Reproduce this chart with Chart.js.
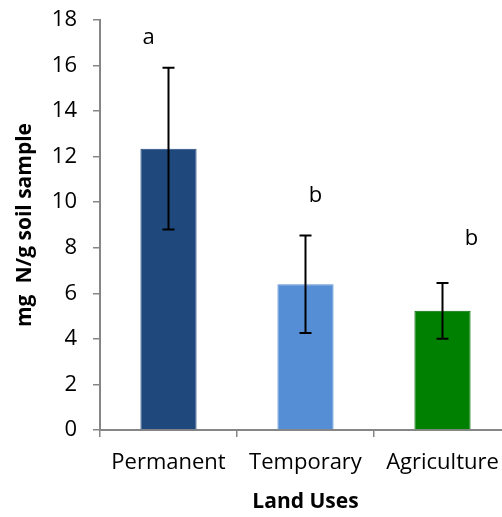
<!DOCTYPE html>
<html>
<head>
<meta charset="utf-8">
<script src="https://cdn.jsdelivr.net/npm/chart.js@4/dist/chart.umd.min.js"></script>
<style>
  html, body { margin: 0; padding: 0; background: #fff; overflow: hidden; }
  #wrap { width: 514px; height: 517px; }
</style>
</head>
<body>
<div id="wrap"><canvas id="chart"></canvas></div>
<script>
const categories = ["Permanent", "Temporary", "Agriculture"];
const means = [12.35, 6.4, 5.23];
const errors = [3.55, 2.14, 1.22];
const barColors = ["#1F497D", "#558ED5", "#008000"];
const barBorders = ["#1F497D", "#558ED5", "#006A00"];
const letters = ["a", "b", "b"];
const letterValues = [17.2, 10.3, 8.4];
const yTicks = [0, 2, 4, 6, 8, 10, 12, 14, 16, 18];

const axisGray = "#868686";

// error bars drawn from the y scale
const errorBars = {
  id: "errorBars",
  afterDatasetsDraw(chart) {
    const ctx = chart.ctx;
    const y = chart.scales.y;
    const meta = chart.getDatasetMeta(0);
    ctx.save();
    ctx.strokeStyle = "#000";
    ctx.lineWidth = 2;
    meta.data.forEach((bar, i) => {
      const top = y.getPixelForValue(means[i] + errors[i]);
      const bot = y.getPixelForValue(means[i] - errors[i]);
      const cap = 6;
      ctx.beginPath();
      ctx.moveTo(bar.x, top);
      ctx.lineTo(bar.x, bot);
      ctx.moveTo(bar.x - cap, top);
      ctx.lineTo(bar.x + cap, top);
      ctx.moveTo(bar.x - cap, bot);
      ctx.lineTo(bar.x + cap, bot);
      ctx.stroke();
    });
    ctx.restore();
  }
};

// significance letters
const letterLabels = {
  id: "letterLabels",
  afterDatasetsDraw(chart, args, opts) {
    const ctx = chart.ctx;
    const y = chart.scales.y;
    const meta = chart.getDatasetMeta(0);
    ctx.save();
    ctx.fillStyle = "#000";
    ctx.font = "22px 'Open Sans'";
    ctx.textAlign = "center";
    ctx.textBaseline = "middle";
    meta.data.forEach((bar, i) => {
      ctx.fillText(letters[i], bar.x + opts.shift[i], y.getPixelForValue(letterValues[i]));
    });
    ctx.restore();
  }
};

new Chart(document.getElementById("chart"), {
  type: "bar",
  data: {
    labels: categories,
    datasets: [{
      data: means,
      backgroundColor: barColors,
      borderColor: barBorders,
      borderWidth: 1,
      categoryPercentage: 1,
      barPercentage: 0.41
    }]
  },
  options: {
    responsive: true,
    maintainAspectRatio: false,
    animation: false,
    layout: { padding: { top: 20, right: 3, left: 0, bottom: 0 } },
    plugins: {
      legend: { display: false },
      tooltip: { enabled: false },
      letterLabels: { shift: [-20, 10, 29] }
    },
    scales: {
      x: {
        offset: true,
        afterFit(scale) { scale.height = 87; },
        grid: { offset: true, drawOnChartArea: false, drawTicks: true, tickLength: 7, color: axisGray, lineWidth: 1.5 },
        border: { color: axisGray, width: 2 },
        ticks: { color: "#000", padding: 13, maxRotation: 0, font: { family: "'Open Sans'", size: 22 } },
        title: {
          display: true,
          text: "Land Uses",
          color: "#000",
          padding: { top: 0, bottom: 2 },
          font: { family: "'Open Sans'", size: 21, weight: "bold" }
        }
      },
      y: {
        min: 0,
        max: 18,
        afterFit(scale) {
          scale.width = 100;
          scale.paddingTop = 12;
          scale.paddingBottom = 12;
        },
        afterBuildTicks(scale) { scale.ticks = yTicks.map(v => ({ value: v })); },
        grid: { drawOnChartArea: false, drawTicks: true, tickLength: 7, color: axisGray, lineWidth: 1.5 },
        border: { color: axisGray, width: 2 },
        ticks: { color: "#000", padding: 16, font: { family: "'Open Sans'", size: 22 } },
        title: {
          display: true,
          text: "mg  N/g soil sample",
          color: "#000",
          padding: { top: 12, bottom: 0 },
          font: { family: "'Open Sans'", size: 21, weight: "bold" }
        }
      }
    }
  },
  plugins: [errorBars, letterLabels]
});
</script>
</body>
</html>
